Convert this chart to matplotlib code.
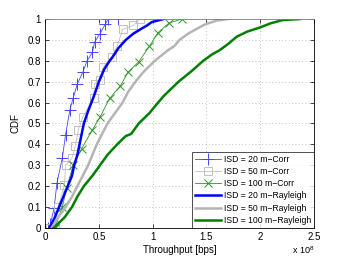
import matplotlib
matplotlib.use('Agg')
import matplotlib.pyplot as plt
import numpy as np

plt.rcParams['font.family'] = ['Liberation Sans', 'DejaVu Sans']
plt.rcParams['mathtext.default'] = 'regular'

# throughput in units of 1e8 bps, cdf level
corr20_x = [0.03, 0.05, 0.084, 0.11, 0.16, 0.19, 0.23, 0.26, 0.30, 0.35, 0.39, 0.44, 0.46, 0.51, 0.56, 0.585, 0.68]
corr20_y = [0.0, 0.02, 0.096, 0.215, 0.335, 0.445, 0.565, 0.62, 0.69, 0.745, 0.80, 0.84, 0.89, 0.93, 0.975, 1.0, 1.0]

corr50_x = [0.05, 0.09, 0.12, 0.18, 0.19, 0.25, 0.28, 0.31, 0.35, 0.45, 0.46, 0.51, 0.54, 0.62, 0.67, 0.72, 0.82, 0.88]
corr50_y = [0.0, 0.015, 0.1, 0.205, 0.30, 0.335, 0.39, 0.47, 0.53, 0.62, 0.69, 0.71, 0.77, 0.82, 0.87, 0.95, 0.97, 1.0]

corr100_x = [0.09, 0.16, 0.20, 0.26, 0.34, 0.44, 0.51, 0.60, 0.70, 0.77, 0.87, 0.97, 1.05, 1.15, 1.27]
corr100_y = [0.0, 0.1, 0.19, 0.30, 0.38, 0.47, 0.53, 0.62, 0.68, 0.745, 0.795, 0.87, 0.935, 0.98, 1.0]

ray20_x = [0.04, 0.06, 0.09, 0.13, 0.17, 0.21, 0.25, 0.27, 0.30, 0.32, 0.34, 0.36, 0.40, 0.43, 0.46, 0.50, 0.55, 0.60, 0.63, 0.68, 0.75, 0.82, 0.90, 0.95, 0.99, 1.10]
ray20_y = [0.0, 0.02, 0.05, 0.10, 0.15, 0.20, 0.25, 0.30, 0.35, 0.40, 0.45, 0.50, 0.56, 0.60, 0.64, 0.70, 0.76, 0.80, 0.82, 0.86, 0.90, 0.93, 0.955, 0.97, 0.985, 1.0]

ray50_x = [0.06, 0.12, 0.19, 0.25, 0.30, 0.35, 0.40, 0.44, 0.48, 0.53, 0.58, 0.65, 0.72, 0.77, 0.84, 0.92, 1.02, 1.14, 1.20, 1.25, 1.33, 1.40, 1.47, 1.52, 1.60, 1.70]
ray50_y = [0.0, 0.05, 0.10, 0.15, 0.20, 0.25, 0.30, 0.35, 0.40, 0.45, 0.50, 0.55, 0.60, 0.65, 0.70, 0.75, 0.80, 0.85, 0.87, 0.90, 0.93, 0.95, 0.97, 0.98, 0.993, 1.0]

ray100_x = [0.08, 0.12, 0.18, 0.25, 0.30, 0.36, 0.44, 0.51, 0.58, 0.67, 0.75, 0.80, 0.87, 0.97, 1.05, 1.10, 1.16, 1.24, 1.36, 1.47, 1.55, 1.62, 1.70, 1.78, 1.88, 2.00, 2.10, 2.21, 2.37]
ray100_y = [0.0, 0.02, 0.05, 0.10, 0.15, 0.20, 0.25, 0.30, 0.35, 0.40, 0.44, 0.45, 0.50, 0.55, 0.60, 0.63, 0.66, 0.70, 0.75, 0.80, 0.83, 0.85, 0.88, 0.915, 0.94, 0.96, 0.98, 0.995, 1.0]

labels = ['ISD = 20 m\u2212Corr', 'ISD = 50 m\u2212Corr', 'ISD = 100 m\u2212Corr',
          'ISD = 20 m\u2212Rayleigh', 'ISD = 50 m\u2212Rayleigh', 'ISD = 100 m\u2212Rayleigh']

blue = '#0000ff'
grey = '#b4b4b4'
green = '#008000'

fig = plt.figure(figsize=(3.47, 2.57), dpi=100)
ax = fig.add_axes([0.130, 0.113, 0.775, 0.813])

ax.plot(corr20_x, corr20_y, color='#4646ff', lw=0.6, marker='+', ms=8, mew=0.7, label=labels[0])
ax.plot(corr50_x, corr50_y, color='#c0c0c0', lw=0.6, marker='s', ms=6, mew=0.7, mfc='none', label=labels[1])
ax.plot(corr100_x, corr100_y, color='#2a962a', lw=0.6, marker='x', ms=6, mew=0.7, label=labels[2])
ax.plot(ray20_x, ray20_y, color=blue, lw=1.8, label=labels[3])
ax.plot(ray50_x, ray50_y, color=grey, lw=1.8, label=labels[4])
ax.plot(ray100_x, ray100_y, color=green, lw=1.8, label=labels[5])

ax.set_xlim(0, 2.5)
ax.set_ylim(0, 1)
ax.set_xticks([0, 0.5, 1, 1.5, 2, 2.5])
ax.set_xticklabels(['0', '0.5', '1', '1.5', '2', '2.5'])
ax.set_yticks(np.arange(0, 1.01, 0.1))
ax.set_yticklabels(['0', '0.1', '0.2', '0.3', '0.4', '0.5', '0.6', '0.7', '0.8', '0.9', '1'])
ax.tick_params(direction='in', labelsize=7, length=3, width=0.5, top=True, right=True, pad=3)
ax.grid(True, linestyle=(0, (1, 3)), color='#b0b0b0', linewidth=0.6)
for s in ax.spines.values():
    s.set_linewidth(0.6)
    s.set_color('black')
ax.spines['top'].set_color('#808080')

ax.set_xlabel('Throughput [bps]', fontsize=7, labelpad=2)
ax.set_ylabel('CDF', fontsize=7, labelpad=5)
ax.text(1.0, -0.105, 'x 10$^{8}$', transform=ax.transAxes, ha='right', va='center', fontsize=6.5)

leg = ax.legend(loc='lower right', fontsize=6.2, borderaxespad=0, frameon=True, fancybox=False,
                handlelength=3.0, handletextpad=0.3, labelspacing=0.38, borderpad=0.35)
leg.get_frame().set_edgecolor('black')
leg.get_frame().set_linewidth(0.6)

fig.savefig('out.png', dpi=100)
